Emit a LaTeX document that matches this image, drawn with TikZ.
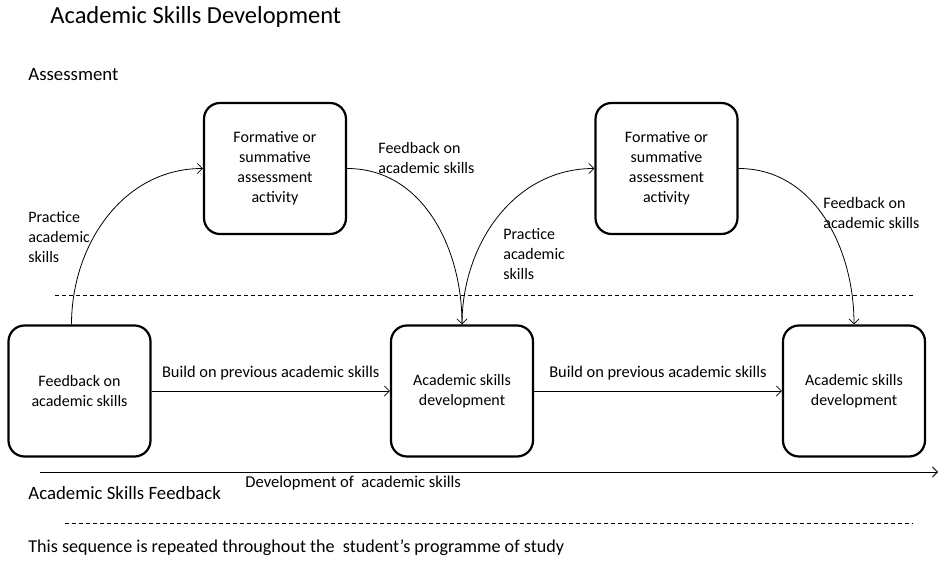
\documentclass[tikz,border=0pt]{standalone}
\usepackage{fontspec}
\setmainfont{Carlito}
\usetikzlibrary{arrows.meta,positioning}

\begin{document}
\begin{tikzpicture}[x=1pt,y=-1pt,line width=.8pt,>={Straight Barb[length=5pt,width=10pt]},
box/.style={draw,line width=2.2pt,rounded corners=16pt,minimum width=142pt,minimum height=131pt,align=center,font=\fontsize{16}{20}\selectfont},
lbl/.style={align=left,anchor=west,inner sep=0pt,font=\fontsize{16}{20}\selectfont},
head/.style={lbl,font=\fontsize{18.8}{22}\selectfont}]
\useasboundingbox(0,0)rectangle(940,572);
% boxes
\node[box](a1)at(275,168.5){Formative or\\summative\\assessment\\activity};
\node[box](a2)at(666.5,168.5){Formative or\\summative\\assessment\\activity};
\node[box](b1)at(79.5,391){Feedback on\\academic skills};
\node[box](b2)at(462,391){Academic skills\\development};
\node[box](b3)at(854,391){Academic skills\\development};
% headings
\node[lbl,font=\fontsize{24.5}{28}\selectfont](title)at(50,17){Academic Skills Development};
\node[head](assess)at(28,75){Assessment};
\node[head](fback)at(28,493){Academic Skills Feedback};
\node[head,font=\fontsize{18.1}{22}\selectfont](repeat)at(28,548){This sequence is repeated throughout the\ \ student’s programme of study};
% arrows
\draw[->]([xshift=-8pt]b1.north)to[out=90,in=180](a1.west);
\draw[->](a1.east)to[out=0,in=90](b2.north);
\draw[->](b2.north)to[out=90,in=180](a2.west);
\draw[->](a2.east)to[out=0,in=90](b3.north);
\draw[->](b1)--node[above=7pt,font=\fontsize{16.4}{20}\selectfont]{Build on previous academic skills}(b2);
\draw[->](b2)--node[above=7pt,font=\fontsize{16.4}{20}\selectfont]{Build on previous academic skills}(b3);
% arrow labels
\node[lbl](prac1)at(28,237){Practice\\academic\\skills};
\node[lbl](feed1)at(378,158){Feedback on\\academic skills};
\node[lbl](prac2)at(503,254){Practice\\academic\\skills};
\node[lbl](feed2)at(823,213){Feedback on\\academic skills};
% timeline
\coordinate(start)at(40,472);
\coordinate(stop)at(938,472);
\draw[->](start)--(stop);
\node[lbl,font=\fontsize{16.6}{20}\selectfont](dev)at(245,483){Development of\ \ academic skills};
% dashed separators
\draw[dash pattern=on 4pt off 3pt](55,295)--(913,295);
\draw[dash pattern=on 4pt off 3pt](65,523)--(913,523);
\end{tikzpicture}
\end{document}
